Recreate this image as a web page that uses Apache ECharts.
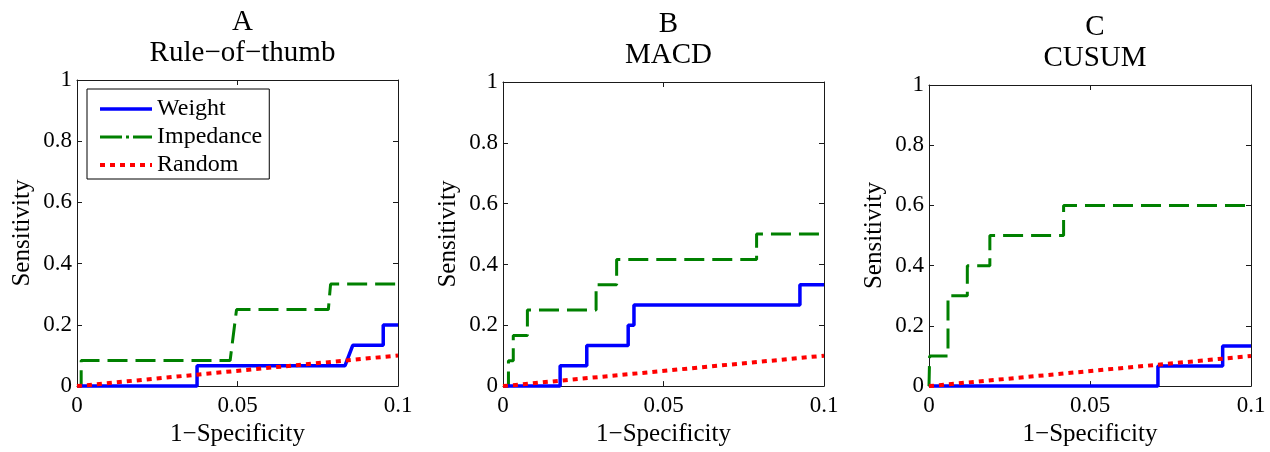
<!DOCTYPE html>
<html>
<head>
<meta charset="utf-8">
<script src="https://cdn.jsdelivr.net/npm/echarts@6/dist/echarts.min.js"></script>
<style>
html,body{margin:0;padding:0;background:#fff;}
#chart{width:1270px;height:452px;}
</style>
</head>
<body>
<div id="chart"></div>
<script>
// ---- data ----
var panelLetters = ['A', 'B', 'C'];
var panelNames = ['Rule\u2212of\u2212thumb', 'MACD', 'CUSUM'];
var seriesNames = ['Weight', 'Impedance', 'Random'];
var xTicks = [0, 0.05, 0.1];
var yTicks = [0, 0.2, 0.4, 0.6, 0.8, 1];
var xAxisName = '1\u2212Specificity';
var yAxisName = 'Sensitivity';

var weightA = [[0,0],[0.0374,0],[0.0374,0.0667],[0.0835,0.0667],[0.0859,0.1333],[0.0954,0.1333],[0.0954,0.2],[0.1,0.2]];
var impedanceA = [[0,0],[0.0013,0],[0.0013,0.0833],[0.0477,0.0833],[0.0497,0.25],[0.0783,0.25],[0.079,0.3333],[0.1,0.3333]];
var weightB = [[0,0],[0.0178,0],[0.0178,0.0667],[0.0261,0.0667],[0.0261,0.1333],[0.039,0.1333],[0.039,0.2],[0.0408,0.2],[0.0408,0.2667],[0.0925,0.2667],[0.0925,0.3333],[0.1,0.3333]];
var impedanceB = [[0,0],[0.0017,0],[0.0017,0.0833],[0.0032,0.0833],[0.0032,0.1667],[0.0076,0.1667],[0.0076,0.25],[0.029,0.25],[0.029,0.3333],[0.0354,0.3333],[0.0354,0.4167],[0.079,0.4167],[0.079,0.5],[0.1,0.5]];
var weightC = [[0,0],[0.0711,0],[0.0711,0.0667],[0.0912,0.0667],[0.0912,0.1333],[0.1,0.1333]];
var impedanceC = [[0,0],[0.0002,0],[0.0002,0.1],[0.0059,0.1],[0.0059,0.3],[0.0119,0.3],[0.0119,0.4],[0.0189,0.4],[0.0189,0.5],[0.0418,0.5],[0.0418,0.6],[0.1,0.6]];
var randomLine = [[0,0],[0.1,0.1]];

var weightData = [weightA, weightB, weightC];
var impedanceData = [impedanceA, impedanceB, impedanceC];

// ---- layout / style ----
var FONT = 'Liberation Serif';
var grids = [
  {left: 77, top: 80, width: 321, height: 311},
  {left: 503, top: 82, width: 321, height: 309},
  {left: 929, top: 85, width: 322, height: 307}
];
var titleTops = [2, 4, 7];
var AXIS_COLOR = '#1a1a1a';
var BLUE = '#0000ff', GREEN = '#008000', RED = '#ff0000';

var xMin = xTicks[0], xMax = xTicks[xTicks.length - 1], xInt = xTicks[1] - xTicks[0];
var yMin = yTicks[0], yMax = yTicks[yTicks.length - 1], yInt = yTicks[1] - yTicks[0];

var hiddenSymbol = {color: 'rgba(0,0,0,0)', borderWidth: 0, opacity: 0};

var option = {
  animation: false,
  backgroundColor: '#ffffff',
  textStyle: {fontFamily: FONT},
  title: [],
  grid: [],
  xAxis: [],
  yAxis: [],
  series: [],
  legend: {
    left: 87, top: 89,
    orient: 'vertical',
    itemWidth: 52, itemHeight: 12, itemGap: 4,
    padding: [8, 7, 2, 11],
    borderColor: '#000', borderWidth: 1, backgroundColor: '#fff',
    itemStyle: hiddenSymbol,
    textStyle: {fontFamily: FONT, fontSize: 24, color: '#000', lineHeight: 24},
    data: [
      {name: seriesNames[0], itemStyle: hiddenSymbol, lineStyle: {color: BLUE, width: 3.5, type: 'solid'}},
      {name: seriesNames[1], itemStyle: hiddenSymbol, lineStyle: {color: GREEN, width: 3, type: [22, 4, 3, 4]}},
      {name: seriesNames[2], itemStyle: hiddenSymbol, lineStyle: {color: RED, width: 4, type: [5, 5]}}
    ]
  }
};

function axisBase(extra) {
  var a = {
    type: 'value',
    axisLine: {show: true, onZero: false, lineStyle: {color: AXIS_COLOR, width: 1}},
    axisTick: {show: true, inside: true, length: 5, lineStyle: {color: AXIS_COLOR}},
    splitLine: {show: false}
  };
  for (var k in extra) a[k] = extra[k];
  return a;
}

for (var i = 0; i < 3; i++) {
  var g = grids[i];
  option.grid.push({left: g.left, top: g.top, width: g.width, height: g.height, containLabel: false});
  option.title.push({
    text: panelLetters[i] + '\n' + panelNames[i],
    left: g.left + g.width / 2,
    top: titleTops[i],
    textAlign: 'center',
    textStyle: {fontFamily: FONT, fontSize: 29, fontWeight: 'normal', color: '#000', lineHeight: 31}
  });
  // bottom x axis
  option.xAxis.push(axisBase({
    gridIndex: i, position: 'bottom', min: xMin, max: xMax, interval: xInt,
    name: xAxisName, nameLocation: 'middle', nameGap: 33,
    nameTextStyle: {fontFamily: FONT, fontSize: 25, color: '#000'},
    axisLabel: {show: true, margin: 8, fontFamily: FONT, fontSize: 23, color: '#000',
      formatter: function (v) { return String(+v.toFixed(4)); }}
  }));
  // top mirror x axis
  option.xAxis.push(axisBase({
    gridIndex: i, position: 'top', min: xMin, max: xMax, interval: xInt,
    axisLabel: {show: false}
  }));
  // left y axis
  option.yAxis.push(axisBase({
    gridIndex: i, position: 'left', min: yMin, max: yMax, interval: yInt,
    name: yAxisName, nameLocation: 'middle', nameGap: 42, nameRotate: 90,
    nameTextStyle: {fontFamily: FONT, fontSize: 25, color: '#000'},
    axisLabel: {show: true, margin: 5, fontFamily: FONT, fontSize: 23, color: '#000',
      formatter: function (v) { return String(+v.toFixed(4)); }}
  }));
  // right mirror y axis
  option.yAxis.push(axisBase({
    gridIndex: i, position: 'right', min: yMin, max: yMax, interval: yInt,
    axisLabel: {show: false}
  }));

  option.series.push({
    name: seriesNames[1], type: 'line', xAxisIndex: 2 * i, yAxisIndex: 2 * i,
    data: impedanceData[i], symbol: 'none', clip: false, z: 2,
    lineStyle: {color: GREEN, width: 3, type: [20, 8]}, itemStyle: {color: GREEN}
  });
  option.series.push({
    name: seriesNames[0], type: 'line', xAxisIndex: 2 * i, yAxisIndex: 2 * i,
    data: weightData[i], symbol: 'none', clip: false, z: 3,
    lineStyle: {color: BLUE, width: 3.5, type: 'solid'}, itemStyle: {color: BLUE}
  });
  option.series.push({
    name: seriesNames[2], type: 'line', xAxisIndex: 2 * i, yAxisIndex: 2 * i,
    data: randomLine, symbol: 'none', clip: false, z: 4,
    lineStyle: {color: RED, width: 4, type: [5, 5]}, itemStyle: {color: RED}
  });
}

var chart = echarts.init(document.getElementById('chart'), null, {renderer: 'canvas'});
chart.setOption(option);
</script>
</body>
</html>
